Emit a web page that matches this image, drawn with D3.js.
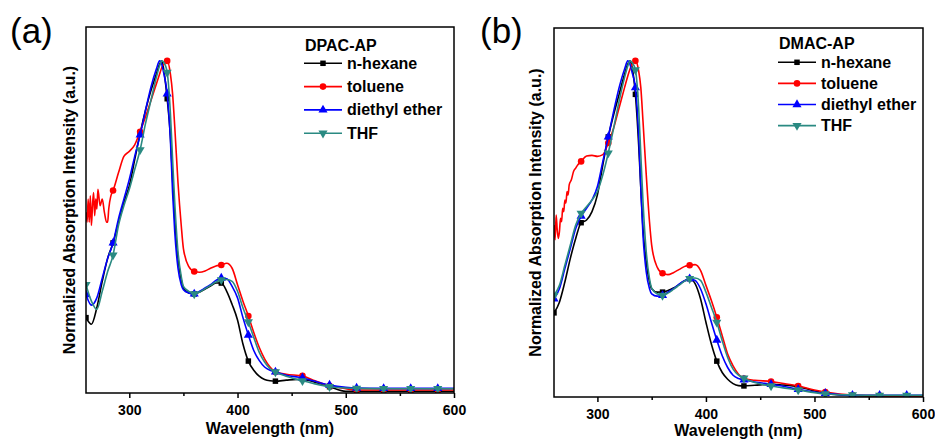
<!DOCTYPE html>
<html>
<head>
<meta charset="utf-8">
<script src="https://cdn.jsdelivr.net/npm/d3@7"></script>
<style>
  body { margin: 0; background: #fff; }
  svg { display: block; font-family: "Liberation Sans", Arial, sans-serif; }
</style>
</head>
<body>
<div id="wrapper"></div>
<script>
// wavelength grid (nm) shared by all curves
const wavelengths = [260, 265, 270, 275, 280, 285, 290, 295, 300, 305, 310, 315, 320, 325, 328, 330, 332, 335, 338, 340, 342, 345, 348, 350, 355, 360, 365, 370, 375, 380, 385, 390, 395, 400, 405, 410, 415, 420, 425, 430, 435, 445, 460, 470, 485, 500, 510, 535, 560, 585, 600];

const solvents = ["n-hexane", "toluene", "diethyl ether", "THF"];
const xTicks = [300, 400, 500, 600];
const xMinorTicks = [350, 450, 550];

// (a) DPAC-AP
const dpacHexane = [0.22, 0.20, 0.25, 0.33, 0.40, 0.447, 0.51, 0.57, 0.62, 0.70, 0.78, 0.85, 0.91, 0.96, 0.99, 1.0, 0.97, 0.885, 0.77, 0.64, 0.52, 0.40, 0.335, 0.31, 0.295, 0.292, 0.298, 0.307, 0.316, 0.325, 0.325, 0.30, 0.26, 0.213, 0.14, 0.088, 0.06, 0.042, 0.032, 0.028, 0.027, 0.03, 0.033, 0.025, 0.01, -0.004, -0.004, -0.004, -0.004, -0.004, -0.004];
const dpacToluene = [null, null, null, null, null, 0.606, 0.66, 0.71, 0.725, 0.745, 0.785, 0.83, 0.88, 0.93, 0.96, 0.98, 0.99, 1.0, 0.96, 0.90, 0.80, 0.63, 0.50, 0.43, 0.375, 0.36, 0.358, 0.362, 0.37, 0.377, 0.38, 0.385, 0.37, 0.32, 0.27, 0.225, 0.175, 0.13, 0.095, 0.07, 0.055, 0.048, 0.043, 0.03, 0.013, 0.004, 0.0, 0.0, 0.0, 0.0, 0.0];
const dpacTolueneNoiseWl = [260, 261, 262, 263, 264, 265, 266, 267, 268, 269, 270, 271, 273, 275, 277, 279, 280, 281, 283];
const dpacTolueneNoise = [0.54, 0.51, 0.58, 0.51, 0.59, 0.50, 0.56, 0.60, 0.53, 0.58, 0.55, 0.61, 0.56, 0.58, 0.54, 0.51, 0.51, 0.55, 0.59];
const dpacEther = [0.29, 0.258, 0.28, 0.34, 0.40, 0.447, 0.52, 0.58, 0.64, 0.71, 0.775, 0.85, 0.92, 0.975, 1.0, 0.99, 0.96, 0.90, 0.76, 0.60, 0.48, 0.37, 0.32, 0.305, 0.295, 0.292, 0.30, 0.31, 0.32, 0.333, 0.34, 0.338, 0.315, 0.28, 0.22, 0.167, 0.12, 0.09, 0.07, 0.06, 0.055, 0.045, 0.037, 0.028, 0.015, 0.008, 0.006, 0.005, 0.005, 0.005, 0.005];
const dpacThf = [0.32, 0.27, 0.245, 0.30, 0.36, 0.41, 0.50, 0.56, 0.61, 0.67, 0.73, 0.81, 0.88, 0.95, 0.985, 1.0, 0.995, 0.965, 0.84, 0.70, 0.57, 0.42, 0.345, 0.315, 0.30, 0.292, 0.298, 0.308, 0.318, 0.328, 0.335, 0.336, 0.33, 0.30, 0.25, 0.207, 0.16, 0.115, 0.085, 0.065, 0.055, 0.042, 0.028, 0.02, 0.01, 0.006, 0.005, 0.004, 0.004, 0.004, 0.004];

// (b) DMAC-AP
const dmacHexane = [0.248, 0.28, 0.34, 0.41, 0.47, 0.517, 0.525, 0.55, 0.60, 0.69, 0.773, 0.84, 0.90, 0.96, 0.99, 1.0, 0.98, 0.90, 0.75, 0.62, 0.50, 0.40, 0.34, 0.32, 0.31, 0.31, 0.315, 0.322, 0.332, 0.343, 0.35, 0.335, 0.29, 0.22, 0.155, 0.104, 0.07, 0.05, 0.037, 0.031, 0.03, 0.032, 0.035, 0.033, 0.028, 0.015, 0.008, 0.001, 0.0, 0.0, 0.0];
const dmacToluene = [null, null, null, null, null, 0.70, 0.716, 0.718, 0.715, 0.72, 0.755, 0.80, 0.86, 0.92, 0.955, 0.975, 0.99, 1.0, 0.97, 0.92, 0.82, 0.66, 0.52, 0.45, 0.385, 0.366, 0.362, 0.368, 0.377, 0.386, 0.39, 0.392, 0.375, 0.33, 0.285, 0.235, 0.18, 0.125, 0.09, 0.065, 0.052, 0.047, 0.043, 0.038, 0.03, 0.018, 0.012, 0.003, 0.001, 0.0, 0.0];
const dmacTolueneNoiseWl = [260, 261, 262, 263, 264, 265, 266, 267, 268, 269, 270, 271, 272, 273, 274, 276, 278, 280, 282];
const dmacTolueneNoise = [0.51, 0.466, 0.54, 0.495, 0.47, 0.49, 0.53, 0.52, 0.56, 0.55, 0.585, 0.576, 0.61, 0.60, 0.63, 0.645, 0.67, 0.68, 0.69];
const dmacEther = [0.29, 0.32, 0.38, 0.44, 0.50, 0.537, 0.56, 0.585, 0.625, 0.70, 0.773, 0.85, 0.92, 0.975, 1.0, 0.99, 0.965, 0.92, 0.78, 0.62, 0.48, 0.37, 0.32, 0.305, 0.298, 0.30, 0.31, 0.32, 0.333, 0.343, 0.35, 0.345, 0.32, 0.275, 0.22, 0.167, 0.12, 0.085, 0.062, 0.052, 0.048, 0.042, 0.035, 0.03, 0.02, 0.012, 0.008, 0.002, 0.002, 0.002, 0.002];
const dmacThf = [0.30, 0.33, 0.39, 0.45, 0.51, 0.545, 0.565, 0.585, 0.61, 0.66, 0.725, 0.80, 0.88, 0.95, 0.985, 1.0, 0.995, 0.973, 0.86, 0.72, 0.58, 0.43, 0.35, 0.322, 0.305, 0.30, 0.307, 0.318, 0.33, 0.342, 0.35, 0.352, 0.345, 0.31, 0.265, 0.22, 0.165, 0.115, 0.08, 0.062, 0.053, 0.04, 0.03, 0.025, 0.018, 0.01, 0.006, 0.003, 0.002, 0.002, 0.002];

const colors = ["#000000", "#ff0000", "#0000ff", "#2a8a82"];
const symbols = [d3.symbolSquare, d3.symbolCircle, d3.symbolTriangle, d3.symbolTriangle];
const symbolRotate = [0, 0, 0, 180];
const symbolSize = [30, 34, 36, 36];

const panels = [
  {
    tag: "(a)", tagX: 10, title: "DPAC-AP",
    left: 86, right: 454, top: 27, bottom: 393, yDomain: [-0.009, 1.103],
    legendX: 304, legendTitleY: 51, legendY0: 63.3, legendDy: 23.3, yLabelX: 75, xLabelY: 434,
    series: [
      { values: dpacHexane },
      { values: dpacToluene, noiseWl: dpacTolueneNoiseWl, noise: dpacTolueneNoise },
      { values: dpacEther },
      { values: dpacThf }
    ]
  },
  {
    tag: "(b)", tagX: 480, title: "DMAC-AP",
    left: 554, right: 923, top: 28, bottom: 397, yDomain: [-0.003, 1.098],
    legendX: 778, legendTitleY: 49, legendY0: 62.3, legendDy: 21.1, yLabelX: 541, xLabelY: 436,
    series: [
      { values: dmacHexane },
      { values: dmacToluene, noiseWl: dmacTolueneNoiseWl, noise: dmacTolueneNoise },
      { values: dmacEther },
      { values: dmacThf }
    ]
  }
];

const svg = d3.select("#wrapper")
  .append("svg")
  .attr("width", 935)
  .attr("height", 439);

svg.append("rect").attr("width", 935).attr("height", 439).attr("fill", "#fff");

panels.forEach(drawPanel);

function buildPoints(s) {
  const pts = [];
  if (s.noiseWl) s.noiseWl.forEach((w, i) => pts.push({ x: w, y: s.noise[i], mark: false }));
  wavelengths.forEach((w, i) => {
    if (s.values[i] !== null) pts.push({ x: w, y: s.values[i], mark: (w - 260) % 25 === 0 });
  });
  return pts;
}

function drawPanel(p) {
  const xScale = d3.scaleLinear().domain([260, 600]).range([p.left, p.right]);
  const yScale = d3.scaleLinear().domain(p.yDomain).range([p.bottom, p.top]);

  const g = svg.append("g");

  // panel tag
  g.append("text")
    .attr("x", p.tagX)
    .attr("y", 42.5)
    .style("font-size", "35px")
    .text(p.tag);

  // curves
  const line = d3.line()
    .x(d => xScale(d.x))
    .y(d => yScale(d.y))
    .curve(d3.curveMonotoneX);

  const clipId = "clip" + p.tag.replace(/\W/g, "");
  g.append("clipPath").attr("id", clipId)
    .append("rect")
    .attr("x", p.left).attr("y", p.top)
    .attr("width", p.right - p.left).attr("height", p.bottom - p.top);

  const plot = g.append("g").attr("clip-path", `url(#${clipId})`);

  p.series.forEach((s, i) => {
    const pts = buildPoints(s);
    plot.append("path")
      .datum(pts)
      .attr("d", line)
      .attr("fill", "none")
      .attr("stroke", colors[i])
      .attr("stroke-width", 1.6)
      .attr("stroke-linejoin", "round");
    plot.selectAll(null)
      .data(pts.filter(d => d.mark))
      .enter()
      .append("path")
      .attr("d", d3.symbol().type(symbols[i]).size(symbolSize[i]))
      .attr("transform", d => `translate(${xScale(d.x)},${yScale(d.y)}) rotate(${symbolRotate[i]})`)
      .attr("fill", colors[i]);
  });

  // frame
  g.append("rect")
    .attr("x", p.left).attr("y", p.top)
    .attr("width", p.right - p.left).attr("height", p.bottom - p.top)
    .attr("fill", "none")
    .attr("stroke", "#000")
    .attr("stroke-width", 1.5);

  // x axis
  const xAxis = g.append("g")
    .attr("transform", `translate(0,${p.bottom})`)
    .call(d3.axisBottom(xScale).tickValues(xTicks).tickSize(5).tickPadding(7).tickFormat(d3.format("d")));
  xAxis.select(".domain").remove();
  xAxis.selectAll("line").attr("stroke-width", 1.5);
  xAxis.selectAll("text")
    .attr("fill", "#000")
    .style("font-size", "14px")
    .style("font-weight", "bold")
    .style("font-family", "'Liberation Sans', Arial, sans-serif");

  const xMinor = g.append("g")
    .attr("transform", `translate(0,${p.bottom})`)
    .call(d3.axisBottom(xScale).tickValues(xMinorTicks).tickSize(3).tickFormat(""));
  xMinor.select(".domain").remove();
  xMinor.selectAll("line").attr("stroke-width", 1.5);

  // axis titles
  g.append("text")
    .attr("x", (p.left + p.right) / 2)
    .attr("y", p.xLabelY)
    .attr("text-anchor", "middle")
    .style("font-size", "16px")
    .style("font-weight", "bold")
    .text("Wavelength (nm)");

  g.append("text")
    .attr("transform", `translate(${p.yLabelX},${(p.top + p.bottom) / 2}) rotate(-90)`)
    .attr("text-anchor", "middle")
    .style("font-size", "16px")
    .style("font-weight", "bold")
    .text("Normalized Absorption Intensity (a.u.)");

  // legend
  const legend = g.append("g");
  legend.append("text")
    .attr("x", p.legendX + 1)
    .attr("y", p.legendTitleY)
    .style("font-size", "16px")
    .style("font-weight", "bold")
    .text(p.title);

  solvents.forEach((name, i) => {
    const y = p.legendY0 + i * p.legendDy;
    legend.append("line")
      .attr("x1", p.legendX).attr("x2", p.legendX + 38)
      .attr("y1", y).attr("y2", y)
      .attr("stroke", colors[i])
      .attr("stroke-width", 1.6);
    legend.append("path")
      .attr("d", d3.symbol().type(symbols[i]).size(symbolSize[i]))
      .attr("transform", `translate(${p.legendX + 19},${y}) rotate(${symbolRotate[i]})`)
      .attr("fill", colors[i]);
    legend.append("text")
      .attr("x", p.legendX + 43)
      .attr("y", y + 5.5)
      .style("font-size", "16px")
      .style("font-weight", "bold")
      .text(name);
  });
}
</script>
</body>
</html>
